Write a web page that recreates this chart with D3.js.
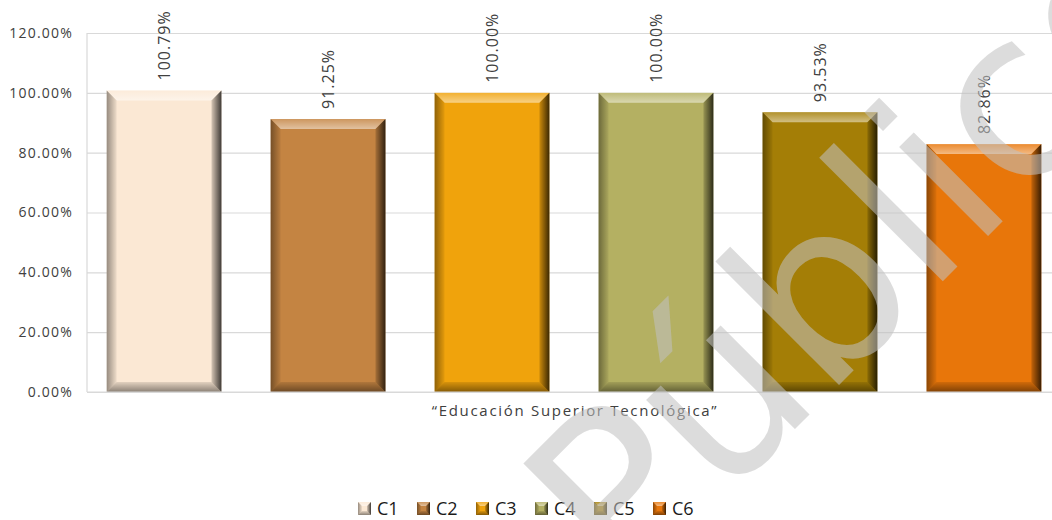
<!DOCTYPE html>
<html>
<head>
<meta charset="utf-8">
<script src="https://cdn.jsdelivr.net/npm/d3@7"></script>
<style>
  html, body { margin: 0; padding: 0; background: #fff; }
  svg { display: block; }
</style>
</head>
<body>
<div id="chart"></div>
<script>
// Chart data
const categories = ['C1', 'C2', 'C3', 'C4', 'C5', 'C6'];
const values = [100.79, 91.25, 100.00, 100.00, 93.53, 82.86];
const colors = ['#fbe8d4', '#c48442', '#f0a30c', '#b4b062', '#a47e06', '#e8760a'];
const yTicks = [0, 20, 40, 60, 80, 100, 120];
const axisTitle = '\u201cEducación Superior Tecnológica\u201d';
const watermark = 'Público';

const width = 1052;
const height = 520;
const margin = { top: 33, right: 0, bottom: 128, left: 87 };
const plotBottom = height - margin.bottom;

const svg = d3.select('#chart')
    .append('svg')
    .attr('width', width)
    .attr('height', height);

svg.append('rect').attr('width', width).attr('height', height).attr('fill', '#fff');

// Scales
const x = d3.scaleBand()
    .domain(categories)
    .range([margin.left, 1061])
    .paddingInner(0.3)
    .paddingOuter(0.12);

const y = d3.scaleLinear()
    .domain([0, 120])
    .range([plotBottom, margin.top]);

// Bevel gradients (white / black overlays)
const defs = svg.append('defs');
function grad(id, x1, y1, x2, y2, c, o1, o2) {
    const g = defs.append('linearGradient').attr('id', id)
        .attr('x1', x1).attr('y1', y1).attr('x2', x2).attr('y2', y2);
    g.append('stop').attr('offset', '0%').attr('stop-color', c).attr('stop-opacity', o1);
    g.append('stop').attr('offset', '100%').attr('stop-color', c).attr('stop-opacity', o2);
}
grad('bevTop', 0, 0, 0, 1, '#fff', 0.15, 0.5);
grad('bevLeft', 0, 0, 1, 0, '#000', 0.4, 0.05);
grad('bevRight', 0, 0, 1, 0, '#000', 0.15, 0.75);
grad('bevBottom', 0, 0, 0, 1, '#000', 0.1, 0.45);

// Gridlines
svg.append('g')
    .attr('transform', `translate(${margin.left},0)`)
    .call(d3.axisLeft(y).tickValues(yTicks).tickSize(-(width - margin.left)).tickFormat(''))
    .call(g => g.select('.domain').remove())
    .call(g => g.selectAll('line').attr('stroke', '#d9d9d9').attr('stroke-width', 1.2));

// Y axis line + labels
svg.append('line')
    .attr('x1', margin.left).attr('x2', margin.left)
    .attr('y1', y(120)).attr('y2', y(0))
    .attr('stroke', '#d9d9d9').attr('stroke-width', 1.2);

svg.append('g')
    .attr('transform', `translate(${margin.left},0)`)
    .call(d3.axisLeft(y).tickValues(yTicks).tickSize(0).tickPadding(14)
        .tickFormat(d => d.toFixed(2) + '%'))
    .call(g => g.select('.domain').remove())
    .call(g => g.selectAll('text')
        .attr('fill', '#404040')
        .style('font-family', '"Open Sans", sans-serif')
        .style('font-size', '14px')
        .style('letter-spacing', '1.2px'));

// Bars with bevel
function bevelBar(g, bx, by, bw, bh, color, b) {
    g.append('rect').attr('x', bx).attr('y', by).attr('width', bw).attr('height', bh).attr('fill', color);
    const poly = (pts, fill) => g.append('polygon')
        .attr('points', pts.map(p => p.join(',')).join(' '))
        .attr('fill', fill);
    poly([[bx, by], [bx + bw, by], [bx + bw - b, by + b], [bx + b, by + b]], 'url(#bevTop)');
    poly([[bx, by], [bx + b, by + b], [bx + b, by + bh - b], [bx, by + bh]], 'url(#bevLeft)');
    poly([[bx + bw, by], [bx + bw, by + bh], [bx + bw - b, by + bh - b], [bx + bw - b, by + b]], 'url(#bevRight)');
    poly([[bx, by + bh], [bx + b, by + bh - b], [bx + bw - b, by + bh - b], [bx + bw, by + bh]], 'url(#bevBottom)');
}

const bars = svg.append('g');
categories.forEach((c, i) => {
    const g = bars.append('g');
    bevelBar(g, x(c), y(values[i]), x.bandwidth(), y(0) - y(values[i]), colors[i], 10);
});

// Bottom axis line
svg.append('line')
    .attr('x1', margin.left).attr('x2', width)
    .attr('y1', y(0)).attr('y2', y(0))
    .attr('stroke', '#d9d9d9').attr('stroke-width', 1.2);

// Data labels (rotated)
svg.append('g')
    .selectAll('text')
    .data(categories)
    .enter()
    .append('text')
    .attr('transform', (c, i) => `translate(${x(c) + x.bandwidth() / 2 + 6},${y(values[i]) - 10}) rotate(-90)`)
    .attr('fill', '#404040')
    .style('font-family', '"Open Sans", sans-serif')
    .style('font-size', '16px')
    .style('letter-spacing', '1px')
    .text((c, i) => values[i].toFixed(2) + '%');

// Axis title
svg.append('text')
    .attr('x', 575)
    .attr('y', plotBottom + 24)
    .attr('text-anchor', 'middle')
    .attr('fill', '#404040')
    .style('font-family', '"Open Sans", sans-serif')
    .style('font-size', '15px')
    .style('letter-spacing', '1.7px')
    .text(axisTitle);

// Legend
const legend = svg.append('g').attr('transform', 'translate(358,502)');
categories.forEach((c, i) => {
    const item = legend.append('g').attr('transform', `translate(${i * 59},0)`);
    bevelBar(item, 0, 0, 13, 13, colors[i], 4);
    item.append('text')
        .attr('x', 19)
        .attr('y', 13)
        .attr('fill', '#1a1a1a')
        .style('font-family', '"Open Sans", sans-serif')
        .style('font-size', '18px')
        .text(c);
});

// Watermark
svg.append('text')
    .attr('transform', 'translate(626,598) rotate(-45)')
    .attr('fill', 'rgb(193,193,193)')
    .attr('fill-opacity', 0.56)
    .style('font-family', '"DejaVu Sans", sans-serif')
    .style('font-size', '230px')
    .text(watermark);
</script>
</body>
</html>
